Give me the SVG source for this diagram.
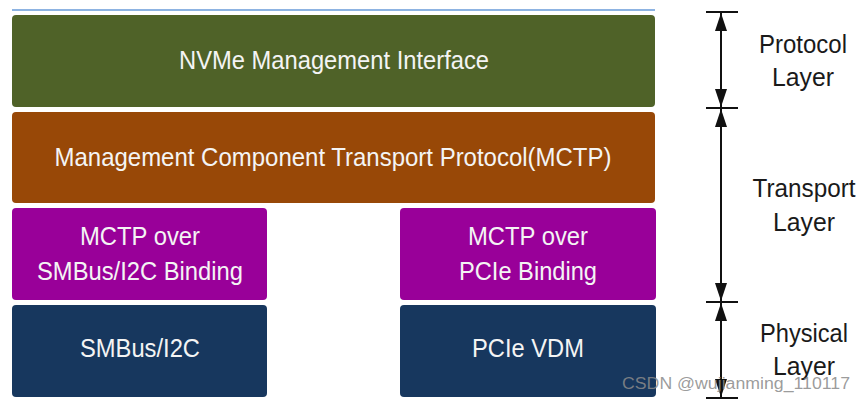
<svg xmlns="http://www.w3.org/2000/svg" width="865" height="401" viewBox="0 0 865 401">
<defs>
<style>
.box text{font-family:"Liberation Sans",Arial,sans-serif;font-size:25px;fill:#f4f4f4;text-anchor:middle}
.lbl{font-family:"Liberation Sans",Arial,sans-serif;font-size:25px;fill:#1a1a1a;text-anchor:middle}
.tick{stroke:#111;stroke-width:2}
.dim{stroke:#111;stroke-width:2}
</style>
<marker id="ah" viewBox="0 0 18 12" refX="18" refY="6" markerWidth="18" markerHeight="12" markerUnits="userSpaceOnUse" orient="auto-start-reverse">
<path d="M0,0 L18,6 L0,12 Z" fill="#111"/>
</marker>
</defs>
<rect width="865" height="401" fill="#fff"/>
<line x1="12" y1="10" x2="655" y2="10" stroke="#8db3e2" stroke-width="2"/>
<g id="nvme-mi" class="box">
<rect x="12" y="15" width="643" height="92" rx="4" fill="#4f6228"/>
<text x="334" y="69" textLength="310" lengthAdjust="spacingAndGlyphs">NVMe Management Interface</text>
</g>
<g id="mctp" class="box">
<rect x="12" y="112" width="643" height="91" rx="4" fill="#984807"/>
<text x="333" y="166" textLength="557" lengthAdjust="spacingAndGlyphs">Management Component Transport Protocol(MCTP)</text>
</g>
<g id="mctp-smbus" class="box">
<rect x="12" y="208" width="255" height="92" rx="4" fill="#990099"/>
<text x="140" y="245" textLength="120" lengthAdjust="spacingAndGlyphs">MCTP over</text>
<text x="140" y="280" textLength="206" lengthAdjust="spacingAndGlyphs">SMBus/I2C Binding</text>
</g>
<g id="mctp-pcie" class="box">
<rect x="400" y="208" width="256" height="92" rx="4" fill="#990099"/>
<text x="528" y="245" textLength="120" lengthAdjust="spacingAndGlyphs">MCTP over</text>
<text x="528" y="280" textLength="138" lengthAdjust="spacingAndGlyphs">PCIe Binding</text>
</g>
<g id="smbus" class="box">
<rect x="12" y="305" width="255" height="92" rx="4" fill="#17375e"/>
<text x="140" y="357" textLength="120" lengthAdjust="spacingAndGlyphs">SMBus/I2C</text>
</g>
<g id="pcie-vdm" class="box">
<rect x="400" y="305" width="256" height="92" rx="4" fill="#17375e"/>
<text x="528" y="357" textLength="112" lengthAdjust="spacingAndGlyphs">PCIe VDM</text>
</g>
<g id="connectors">
<line class="tick" x1="706" y1="12" x2="738" y2="12"/>
<line class="tick" x1="706" y1="108" x2="738" y2="108"/>
<line class="tick" x1="706" y1="302" x2="738" y2="302"/>
<line class="tick" x1="706" y1="398" x2="738" y2="398"/>
<line class="dim" x1="721" y1="13" x2="721" y2="107" marker-start="url(#ah)" marker-end="url(#ah)"/>
<line class="dim" x1="721" y1="109" x2="721" y2="301" marker-start="url(#ah)" marker-end="url(#ah)"/>
<line class="dim" x1="721" y1="303" x2="721" y2="397" marker-start="url(#ah)" marker-end="url(#ah)"/>
</g>
<g id="protocol-layer">
<text class="lbl" x="803" y="53" textLength="88" lengthAdjust="spacingAndGlyphs">Protocol</text>
<text class="lbl" x="803" y="86" textLength="62" lengthAdjust="spacingAndGlyphs">Layer</text>
</g>
<g id="transport-layer">
<text class="lbl" x="804" y="197" textLength="103" lengthAdjust="spacingAndGlyphs">Transport</text>
<text class="lbl" x="804" y="231" textLength="62" lengthAdjust="spacingAndGlyphs">Layer</text>
</g>
<g id="physical-layer">
<text class="lbl" x="804" y="342" textLength="88" lengthAdjust="spacingAndGlyphs">Physical</text>
<text class="lbl" x="804" y="375" textLength="62" lengthAdjust="spacingAndGlyphs">Layer</text>
</g>
<text x="622" y="389" font-family="'Liberation Sans',Arial,sans-serif" font-size="16" fill="#8a8a8a" fill-opacity="0.85" textLength="228" lengthAdjust="spacingAndGlyphs">CSDN @wujianming_110117</text>
</svg>
